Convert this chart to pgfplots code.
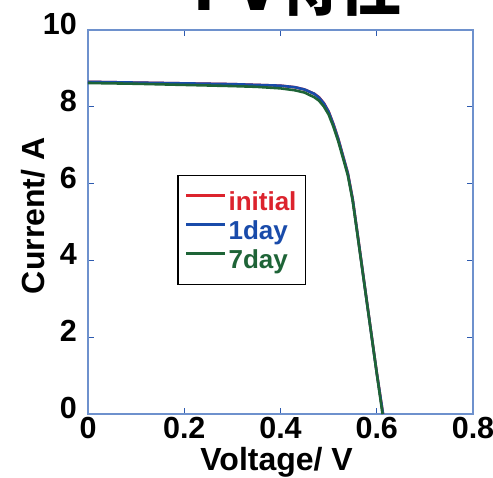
\documentclass[border=0pt]{standalone}
\usepackage{pgfplots}
\pgfplotsset{compat=1.18}
\usepackage{fontspec}
\setmainfont{Liberation Sans}
\newfontfamily\cjk{Noto Sans CJK JP}
\definecolor{cred}{RGB}{220,35,45}
\definecolor{cblue}{RGB}{25,75,170}
\definecolor{cgreen}{RGB}{30,100,55}
\definecolor{axblue}{RGB}{110,145,205}
\definecolor{tkblue}{RGB}{45,90,175}
\begin{document}
\begin{tikzpicture}
\path[use as bounding box] (-88pt,-63pt) rectangle (405pt,414pt);
\begin{axis}[
  scale only axis,
  width=385pt, height=384pt,
  xmin=0, xmax=0.8, ymin=0, ymax=10,
  xtick={0,0.2,0.4,0.6,0.8},
  xticklabels={0,0.2,0.4,0.6,0.8},
  ytick={0,2,4,6,8,10},
  yticklabels={0,2,4,6,8,10},
  tick pos=both,
  tick align=inside,
  major tick length=6pt,
  axis line style={color=axblue, line width=1.5pt},
  tick style={color=tkblue, line width=1.2pt},
  ticklabel style={font=\fontsize{30.5}{30.5}\selectfont\bfseries, inner sep=0pt},
  xticklabel style={anchor=north, yshift=-3pt},
  yticklabel style={anchor=east, xshift=-11pt, yshift=6pt},
  xlabel={Voltage/ V},
  ylabel={Current/ A},
  label style={font=\fontsize{32}{32}\selectfont\bfseries},
  xlabel style={at={(axis description cs:0.49,0)}, anchor=base, yshift=-56pt},
  ylabel style={at={(axis description cs:-0.143,0.516)}, anchor=center},
  legend style={at={(rel axis cs:0.2312,0.6224)}, anchor=north west,
    draw=black, line width=1.5pt, inner xsep=7pt, inner ysep=14pt,
    font=\fontsize{26}{26}\selectfont\bfseries,
    nodes={inner sep=2pt, text height=19pt, text depth=0pt},
    row sep=6pt},
  legend cell align=left,
  legend image code/.code={\draw[#1, line width=2.8pt] (0pt,6pt) -- (39pt,6pt);},
]
\addplot[cred, line width=2.6pt] coordinates {
(0,8.65) (0.1,8.63) (0.2,8.61) (0.3,8.59) (0.35,8.57) (0.4,8.55) (0.43,8.51)
(0.45,8.45) (0.47,8.34) (0.48,8.25) (0.49,8.10) (0.50,7.88) (0.51,7.55)
(0.52,7.17) (0.53,6.72) (0.54,6.27) (0.55,5.60) (0.56,4.70) (0.57,3.79)
(0.58,2.88) (0.59,1.98) (0.60,1.08) (0.613,0)};
\addlegendentry{\textcolor{cred}{initial}}
\addplot[cblue, line width=2.6pt] coordinates {
(0,8.65) (0.1,8.63) (0.2,8.61) (0.3,8.59) (0.35,8.57) (0.4,8.55) (0.43,8.51)
(0.45,8.45) (0.47,8.34) (0.48,8.24) (0.49,8.09) (0.50,7.87) (0.51,7.54)
(0.52,7.16) (0.53,6.71) (0.54,6.26) (0.55,5.59) (0.56,4.69) (0.57,3.78)
(0.58,2.87) (0.59,1.97) (0.60,1.07) (0.613,0)};
\addlegendentry{\textcolor{cblue}{1day}}
\addplot[cgreen, line width=2.6pt] coordinates {
(0,8.62) (0.1,8.60) (0.2,8.57) (0.3,8.54) (0.35,8.52) (0.4,8.48) (0.43,8.43)
(0.45,8.37) (0.47,8.25) (0.48,8.16) (0.49,8.01) (0.50,7.80) (0.51,7.48)
(0.52,7.10) (0.53,6.66) (0.54,6.21) (0.55,5.55) (0.56,4.66) (0.57,3.76)
(0.58,2.86) (0.59,1.96) (0.60,1.06) (0.612,0)};
\addlegendentry{\textcolor{cgreen}{7day}}
\end{axis}
\node[anchor=base east, inner sep=0pt, font=\cjk\bfseries\fontsize{62}{62}\selectfont] at (314pt,403pt) {I-V特性};
\end{tikzpicture}
\end{document}
